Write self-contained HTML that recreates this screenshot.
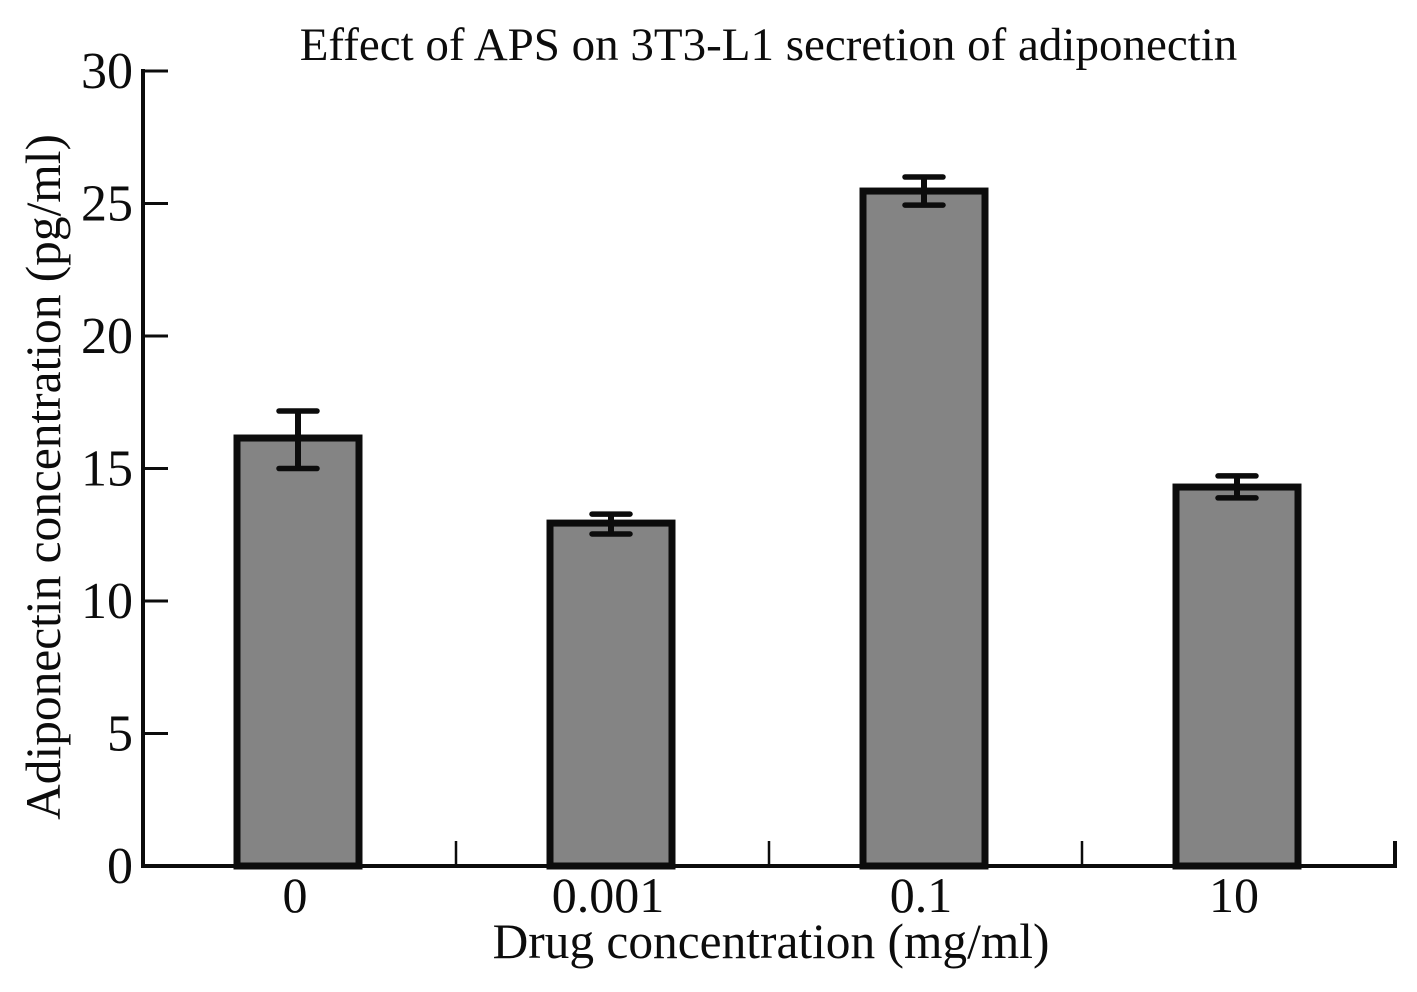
<!DOCTYPE html>
<html>
<head>
<meta charset="utf-8">
<title>Effect of APS on 3T3-L1 secretion of adiponectin</title>
<style>
html,body{margin:0;padding:0;background:#fff;width:1417px;height:992px;overflow:hidden}
svg{display:block}
text{font-family:"Liberation Serif",serif;fill:#0c0c0c}
</style>
</head>
<body>
<svg id="chart" width="1417" height="992" viewBox="0 0 1417 992" xmlns="http://www.w3.org/2000/svg">
<text x="768.5" y="60" text-anchor="middle" font-size="47">Effect of APS on 3T3-L1 secretion of adiponectin</text>
<text x="771" y="958" text-anchor="middle" font-size="49.4">Drug concentration (mg/ml)</text>
<text transform="translate(60,477) rotate(-90)" text-anchor="middle" font-size="49.4">Adiponectin concentration (pg/ml)</text>
<g id="marks"></g>
</svg>
<script>
const categories = ['0', '0.001', '0.1', '10'];
const barValues = [16.15, 12.94, 25.47, 14.3];
const errorUpper = [17.17, 13.28, 26.0, 14.72];
const errorLower = [15.0, 12.53, 24.94, 13.89];
const yTicks = [0, 5, 10, 15, 20, 25, 30];

const NS = 'http://www.w3.org/2000/svg';
const marks = document.getElementById('marks');
const left = 143, right = 1395, base = 866, top_ = 71, yMax = 30;
const yScale = v => base - (v / yMax) * (base - top_);
const band = () => (right - left) / categories.length;
const xCenter = i => left + band() * (i + 0.5) - 1.5;
const barW = 122;
const dark = '#0c0c0c';

function add(tag, attrs, text) {
  const el = document.createElementNS(NS, tag);
  for (const k in attrs) el.setAttribute(k, attrs[k]);
  if (text !== undefined) el.textContent = text;
  marks.appendChild(el);
  return el;
}

categories.forEach((c, i) => {
  const x = xCenter(i), y = yScale(barValues[i]);
  const bar = add('rect', { x: x - barW / 2, y: y, width: barW, height: base - y, fill: '#848484', stroke: dark, 'stroke-width': 7 });
  
  

  const hi = yScale(errorUpper[i]), lo = yScale(errorLower[i]);
  const stem = add('line', { x1: x, x2: x, y1: hi, y2: lo, stroke: dark, 'stroke-width': 6 });
  
  
  [hi, lo].forEach((ey, j) => {
    const cap = add('line', { x1: x - 19, x2: x + 19, y1: ey, y2: ey, stroke: dark, 'stroke-width': 5.5, 'stroke-linecap': 'round' });
    
    
  });

  const label = add('text', { x: x - 3, y: 912, 'text-anchor': 'middle', 'font-size': 50 }, c);
  
  
});

const yAxis = add('line', { x1: left, x2: left, y1: top_ - 2, y2: base + 2, stroke: dark, 'stroke-width': 4 });



const xAxis = add('line', { x1: left - 2, x2: right + 2, y1: base, y2: base, stroke: dark, 'stroke-width': 4 });



yTicks.forEach(t => {
  const y = yScale(t);
  if (t > 0) {
    const tick = add('line', { x1: left, x2: left + 25, y1: y, y2: y, stroke: dark, 'stroke-width': 3 });
    
    
  }
  const label = add('text', { x: 133, y: y + 17, 'text-anchor': 'end', 'font-size': 52 }, String(t));
  
  
});

for (let i = 1; i <= categories.length; i++) {
  const x = left + band() * i;
  const tick = add('line', { x1: x, x2: x, y1: base - 25, y2: base, stroke: dark, 'stroke-width': i === categories.length ? 4 : 2.5 });
  
  
}
</script>
</body>
</html>
